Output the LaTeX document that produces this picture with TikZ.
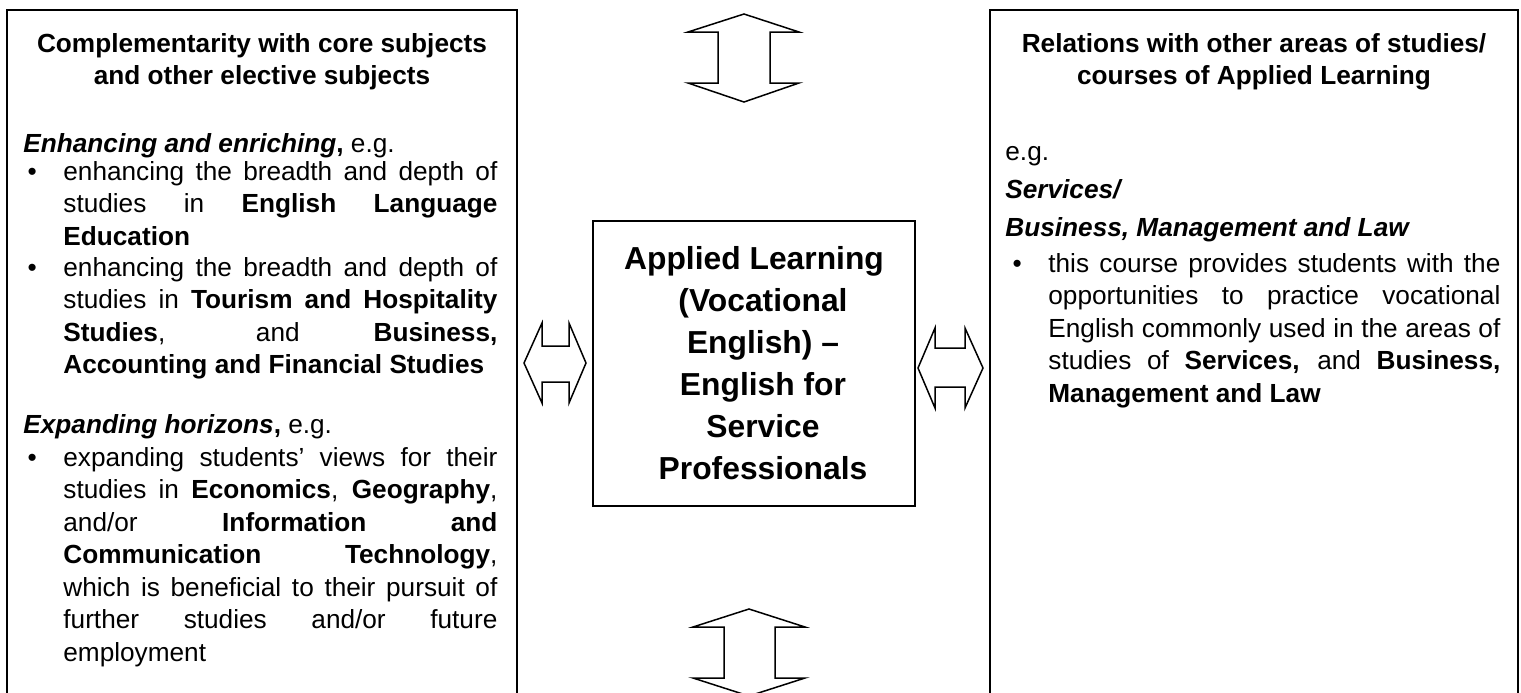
\documentclass[tikz,border=0pt]{standalone}
\usepackage{fontspec}
\setmainfont{Liberation Sans}
\setlength\parindent{0pt}
\newlength\colw
% fixed, font-sized interword space for ragged or centred text
\newcommand\fsp{\spaceskip=0.278em\xspaceskip=0.278em\relax}
% the font's own stretchable interword space, for justified lines
\newcommand\nsp{\spaceskip=0pt\xspaceskip=0pt\relax}
% one justified line of a column, stretched to the full column width
\newcommand\jl[1]{\makebox[\colw][s]{\nsp#1}\\}
% bullet hung to the left of the first line of an item
\newcommand\bul{\llap{\textbullet\hspace{13.25pt}}}
\begin{document}
\begin{tikzpicture}[x=0.5pt,y=-0.5pt,
  frame/.style={draw=black, line width=1pt},
  dblarrow/.style={draw=black, line width=0.75pt, line join=miter},
  body/.style={inner sep=0pt, anchor=base west, align=left,
    font=\fontsize{13.1pt}{16.25pt}\selectfont},
  lcol/.style={body, text width=217pt},
  rcol/.style={body, text width=226pt},
  heading/.style={inner sep=0pt, anchor=base, align=center, text width=250pt,
    font=\fontsize{13.1pt}{16.25pt}\selectfont\bfseries},
  corebox/.style={frame, minimum width=161pt, minimum height=142.5pt,
    inner sep=0pt, align=center,
    font=\fontsize{15.9pt}{21pt}\selectfont\bfseries}
]
\useasboundingbox (0,0) rectangle (1521,692);
\clip (0,0) rectangle (1521,692);

% side panels (they run on past the lower edge)
\draw[frame] (7,10) rectangle (517,720);
\draw[frame] (990,10) rectangle (1518,720);

% central course box
\node[corebox] (core) at (754,363.5)
  {\fsp Applied Learning\\
   \hspace*{9pt}(Vocational\\
   \hspace*{9pt}English) --\\
   \hspace*{9pt}English for\\
   \hspace*{9pt}Service\\
   \hspace*{9pt}Professionals};

% double-headed block arrows
\draw[dblarrow] (744,14) -- (799,32) -- (770,32) -- (770,83) -- (799,83)
  -- (744,102) -- (688,83) -- (718,83) -- (718,32) -- (688,32) -- cycle;
\draw[dblarrow] (749,609) -- (805,627) -- (775,627) -- (775,678) -- (805,678)
  -- (749,696) -- (693,678) -- (724,678) -- (724,627) -- (693,627) -- cycle;
\draw[dblarrow] (524,363) -- (542,323) -- (542,346) -- (569,346) -- (569,323)
  -- (586,363) -- (569,403) -- (569,382) -- (542,382) -- (542,403) -- cycle;
\draw[dblarrow] (918,368) -- (935,328) -- (935,348) -- (965,348) -- (965,328)
  -- (983,368) -- (965,408) -- (965,387) -- (935,387) -- (935,408) -- cycle;

% left panel
\node[heading] (lhead) at (262,52)
  {\fsp Complementarity with core subjects\\and other elective subjects};
\node[body] (lenh) at (23,152)
  {\fsp\textbf{\textit{Enhancing and enriching},} e.g.};
\setlength\colw{217pt}
\node[lcol] (litemA) at (63,180)
  {\fsp\bul\jl{enhancing the breadth and depth of}
   \jl{studies in \textbf{English Language}}
   \textbf{Education}};
\node[lcol] (litemB) at (63,276)
  {\fsp\bul\jl{enhancing the breadth and depth of}
   \jl{studies in \textbf{Tourism and Hospitality}}
   \jl{\textbf{Studies}, and \textbf{Business,}}
   \textbf{Accounting and Financial Studies}};
\node[body] (lexp) at (23,433)
  {\fsp\textbf{\textit{Expanding horizons},} e.g.};
\node[lcol] (litemC) at (63,466)
  {\fsp\bul\jl{expanding students’ views for their}
   \jl{studies in \textbf{Economics}, \textbf{Geography},}
   \jl{and/or \textbf{Information and}}
   \jl{\textbf{Communication Technology},}
   \jl{which is beneficial to their pursuit of}
   \jl{further studies and/or future}
   employment};

% right panel
\node[heading] (rhead) at (1254,52)
  {\fsp Relations with other areas of studies/\\courses of Applied Learning};
\node[body] (reg) at (1005,160) {\fsp e.g.};
\node[body] (rserv) at (1005,198) {\fsp\textbf{\textit{Services/}}};
\node[body] (rbus) at (1005,236) {\fsp\textbf{\textit{Business, Management and Law}}};
\setlength\colw{226pt}
\node[rcol] (ritem) at (1048,272)
  {\fsp\bul\jl{this course provides students with the}
   \jl{opportunities to practice vocational}
   \jl{English commonly used in the areas of}
   \jl{studies of \textbf{Services,} and \textbf{Business,}}
   \textbf{Management and Law}};
\end{tikzpicture}
\end{document}
